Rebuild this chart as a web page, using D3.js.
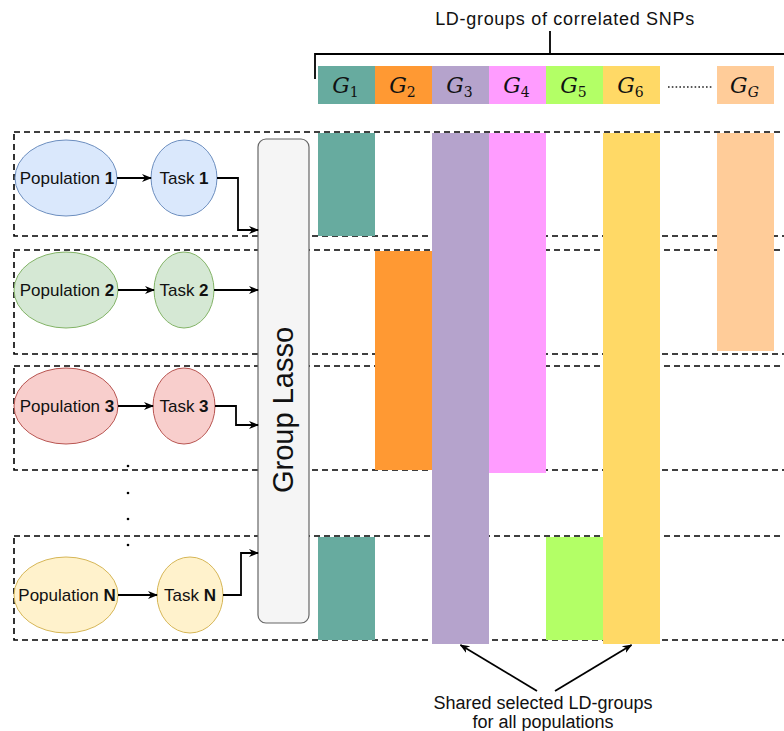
<!DOCTYPE html>
<html><head><meta charset="utf-8">
<script src="https://cdn.jsdelivr.net/npm/d3@7"></script>
<style>html,body{margin:0;padding:0;background:#fff;}</style>
</head><body>
<script>
// ---- data ----
const groups = ["G1","G2","G3","G4","G5","G6","dots","GG"];
const groupSubs = ["1","2","3","4","5","6","","G"];
const groupColors = ["#67AB9F","#FF9933","#B5A3CC","#FF9CFF","#B3FF66","#FFD966","none","#FFCC99"];
const populations = ["1","2","3","N"];
const popFills = ["#DAE8FC","#D5E8D4","#F8CECC","#FFF2CC"];
const popStrokes = ["#6C8EBF","#82B366","#B85450","#D6B656"];
const selectedPop1 = ["G1","G3","G4","G6","GG"];
const selectedPop2 = ["G2","G3","G4","G6","GG"];
const selectedPop3 = ["G2","G3","G4","G6"];
const selectedPopN = ["G1","G3","G5","G6"];
const selections = [selectedPop1, selectedPop2, selectedPop3, selectedPopN];
const title = "LD-groups of correlated SNPs";
const lassoLabel = "Group Lasso";
const noteLines = ["Shared selected LD-groups","for all populations"];

// ---- layout ----
const W = 784, H = 731;
const svg = d3.select("body").append("svg").attr("width", W).attr("height", H)
  .style("font-family","'Liberation Sans', Arial, sans-serif");
const defs = svg.append("defs");
defs.append("marker").attr("id","arr").attr("viewBox","0 0 10 10").attr("refX",9).attr("refY",5)
  .attr("markerWidth",10).attr("markerHeight",10).attr("markerUnits","userSpaceOnUse").attr("orient","auto")
  .append("path").attr("d","M0,1 L10,5 L0,9 L3,5 Z").attr("fill","#000");

const x = d3.scaleBand().domain(groups).range([318, 774]).padding(0);
const rowTop = d3.scaleOrdinal().domain(populations).range([132, 250, 366, 536]);
const rowH = 104;
const nodeY = d3.scaleOrdinal().domain(populations).range([178, 290, 406, 595]);
const color = d3.scaleOrdinal().domain(groups).range(groupColors);

// dashed row boxes
svg.append("g").selectAll("rect").data(populations).join("rect")
  .attr("x", 14).attr("y", d => rowTop(d)).attr("width", 800).attr("height", rowH)
  .attr("fill","none").attr("stroke","#000").attr("stroke-width",1.6).attr("stroke-dasharray","6,4");

// bars: contiguous runs of selected rows per group
const runs = [];
groups.forEach(g => {
  let start = null;
  populations.forEach((p, i) => {
    const sel = selections[i].includes(g);
    if (sel && start === null) start = i;
    if ((!sel || i === populations.length - 1) && start !== null) {
      const end = sel ? i : i - 1;
      runs.push({g, a: populations[start], b: populations[end]});
      start = null;
    }
  });
});
const extra = {G3: 4, G4: 3, G6: 4, GG: -3};
svg.append("g").selectAll("rect").data(runs).join("rect")
  .attr("x", d => x(d.g)).attr("width", x.bandwidth())
  .attr("y", d => rowTop(d.a) + 1)
  .attr("height", d => rowTop(d.b) + rowH - rowTop(d.a) - 1 + (d.a !== d.b ? (extra[d.g] || 0) : 0))
  .attr("fill", d => color(d.g));

// header
svg.append("text").attr("x", 565).attr("y", 25).attr("text-anchor","middle")
  .attr("font-size", 18).attr("letter-spacing", 0.7).attr("fill","#111").text(title);
svg.append("path").attr("d","M550,31 V54 M315,79 V54 H784").attr("fill","none").attr("stroke","#000").attr("stroke-width",1.8);
const hdr = svg.append("g").selectAll("g").data(groups.map((g,i)=>({g, sub: groupSubs[i]}))).join("g");
hdr.filter(d => d.g !== "dots").append("rect")
  .attr("x", d => x(d.g)).attr("y", 66).attr("width", x.bandwidth()).attr("height", 38)
  .attr("fill", d => color(d.g));
const lab = hdr.filter(d => d.g !== "dots").append("text")
  .attr("x", d => x(d.g) + x.bandwidth()/2 - 1).attr("y", 93).attr("text-anchor","middle")
  .attr("font-family","'DejaVu Serif', 'Liberation Serif', serif").attr("fill","#111");
lab.append("tspan").attr("font-style","italic").attr("font-size", 22).text("G");
lab.append("tspan").attr("font-size", 14).attr("dy", 4)
  .attr("font-style", d => d.sub === "G" ? "italic" : "normal").text(d => d.sub);
svg.append("line").attr("x1", x("dots") + 8).attr("x2", x("dots") + 52).attr("y1", 87).attr("y2", 87)
  .attr("stroke","#222").attr("stroke-width",1.6).attr("stroke-dasharray","1.6,2.2");

// lasso box
svg.append("rect").attr("x", 258).attr("y", 139).attr("width", 51).attr("height", 484).attr("rx", 8)
  .attr("fill","#F5F5F5").attr("stroke","#666").attr("stroke-width",1.2);
svg.append("text").attr("transform","translate(293,410) rotate(-90)").attr("text-anchor","middle")
  .attr("font-size", 29).attr("fill","#111").text(lassoLabel);

// nodes
const popRx = [51, 52, 52, 52], taskCx = [184, 184, 184, 190], taskRx = [33, 30, 31, 33];
const nodes = svg.append("g").selectAll("g").data(populations.map((p,i)=>({p,i}))).join("g");
nodes.append("ellipse").attr("cx", 66).attr("cy", d => nodeY(d.p)).attr("rx", d => popRx[d.i]).attr("ry", 38)
  .attr("fill", d => popFills[d.i]).attr("stroke", d => popStrokes[d.i]);
nodes.append("ellipse").attr("cx", d => taskCx[d.i]).attr("cy", d => nodeY(d.p)).attr("rx", d => taskRx[d.i]).attr("ry", 38)
  .attr("fill", d => popFills[d.i]).attr("stroke", d => popStrokes[d.i]);
const pt = nodes.append("text").attr("x", 67).attr("y", d => nodeY(d.p) + 6).attr("text-anchor","middle")
  .attr("font-size", 17).attr("fill","#111");
pt.append("tspan").text("Population ");
pt.append("tspan").attr("font-weight","bold").text(d => d.p);
const tt = nodes.append("text").attr("x", d => taskCx[d.i]).attr("y", d => nodeY(d.p) + 6).attr("text-anchor","middle")
  .attr("font-size", 17).attr("fill","#111");
tt.append("tspan").text("Task ");
tt.append("tspan").attr("font-weight","bold").text(d => d.p);
// pop -> task arrows
nodes.append("path").attr("d", d => `M${66+popRx[d.i]},${nodeY(d.p)} H${taskCx[d.i]-taskRx[d.i]}`)
  .attr("stroke","#000").attr("stroke-width",1.8).attr("fill","none").attr("marker-end","url(#arr)");
// task -> lasso arrows
const turnX = [238, null, 236, 241], endY = [230, 290, 425, 553];
nodes.append("path").attr("d", d => {
  const sx = taskCx[d.i] + taskRx[d.i], y0 = nodeY(d.p);
  return turnX[d.i] === null ? `M${sx},${y0} H258` : `M${sx},${y0} H${turnX[d.i]} V${endY[d.i]} H258`;
}).attr("stroke","#000").attr("stroke-width",1.8).attr("fill","none").attr("marker-end","url(#arr)");

// vertical dots
svg.append("g").selectAll("circle").data([466, 493, 519, 545]).join("circle")
  .attr("cx", 128).attr("cy", d => d).attr("r", 1.3).attr("fill","#000");

// bottom note
svg.append("text").attr("x", 543).attr("y", 709).attr("text-anchor","middle").attr("font-size", 18).attr("fill","#111")
  .selectAll("tspan").data(noteLines).join("tspan").attr("x", 543).attr("dy", (d,i) => i ? 19 : 0).text(d => d);
svg.append("path").attr("d", `M537,691 L${x("G3")+x.bandwidth()/2},645`).attr("stroke","#000").attr("stroke-width",1.8).attr("marker-end","url(#arr)");
svg.append("path").attr("d", `M555,691 L${x("G6")+x.bandwidth()/2},645`).attr("stroke","#000").attr("stroke-width",1.8).attr("marker-end","url(#arr)");
</script>
</body></html>
